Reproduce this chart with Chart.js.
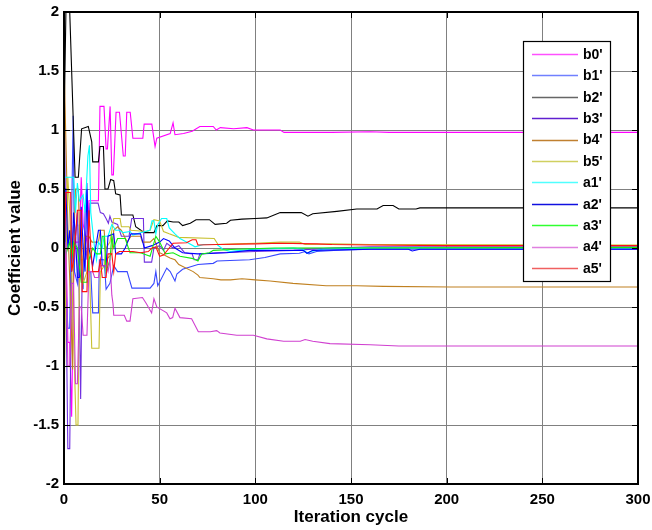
<!DOCTYPE html>
<html><head><meta charset="utf-8">
<script src="https://cdn.jsdelivr.net/npm/chart.js@4.4.1/dist/chart.umd.min.js"></script>
<style>html,body{margin:0;padding:0;background:#fff;}canvas{display:block;}</style>
</head><body>
<canvas id="c" width="652" height="530"></canvas>
<script>
// ---- data: [iteration, coefficient] pairs ----
const seriesNames = ["b0'", "b1'", "b2'", "b3'", "b4'", "b5'", "a1'", "a2'", "a3'", "a4'", "a5'"];
const seriesColors = ["#ff00ff", "#3848ff", "#000000", "#7030e0", "#c08020", "#c8c030", "#00ffff", "#0000ff", "#10ee10", "#d040d0", "#ff1010"];
const legendColors = ["#ff50ff", "#7080ff", "#666666", "#6020d0", "#c08030", "#d0d060", "#50ffff", "#1010e0", "#30ff30", "#e080e0", "#f06060"];

const b0 = [[0,0.8],[1,0.1],[2,-0.8],[3,-0.8],[4,-1.43],[5,-0.3],[6,0.05],[8,0.05],[9,0.6],[10,0.2],[12,0.05],[13,0.4],[18,0.4],[18.8,1.2],[20.9,1.2],[22,0.84],[22.7,0.84],[24.1,1.2],[25,0.62],[25.8,0.62],[27.2,1.15],[29,1.15],[31,0.78],[32,0.78],[32.8,1.15],[34.6,1.15],[36,0.93],[41.2,0.93],[41.9,1.05],[45.9,1.05],[47.6,0.86],[48.5,0.93],[55.5,0.97],[57,1.06],[58,0.96],[62.5,0.97],[67,0.99],[71,1.03],[78,1.03],[79.6,1.0],[81.7,1.02],[88.7,1.01],[95.6,1.02],[99,1.0],[113,1.0],[115,0.98],[140,0.98],[160,0.985],[170,0.98],[300,0.98]];
const b1 = [[0,0.2],[1,-0.3],[2,-0.68],[3,-0.68],[4,0.3],[4.8,1.12],[5.5,-0.2],[7,-0.3],[8,0.2],[9,-0.2],[10,-0.35],[11,0.3],[12,0.55],[13,-0.2],[14,-0.2],[15,-0.55],[18,-0.55],[18.5,-0.1],[21,-0.1],[22,-0.35],[24,-0.3],[26,-0.15],[28,-0.2],[33,-0.2],[35.5,-0.34],[45,-0.34],[47,-0.3],[48,-0.2],[49,-0.32],[53.7,-0.17],[55.5,-0.2],[58,-0.28],[59,-0.22],[62,-0.18],[70,-0.14],[78,-0.13],[80,-0.11],[97,-0.1],[105,-0.08],[113,-0.05],[123,-0.045],[126,-0.03],[128,-0.05],[132,-0.03],[141,-0.02],[160,-0.01],[300,-0.01]];
const b2 = [[0,1.0],[1,2.0],[3,2.0],[5.8,0.6],[7.5,0.6],[9.2,1.01],[12.7,1.03],[14.5,0.9],[15,0.73],[18,0.73],[18.8,0.86],[20.6,0.86],[21.4,0.5],[23,0.5],[24.4,0.58],[26,0.57],[27,0.46],[29.3,0.45],[30,0.28],[36,0.28],[37.5,0.18],[42,0.13],[47,0.13],[48.6,0.19],[51.7,0.19],[54,0.23],[57,0.22],[60,0.22],[62,0.19],[66,0.21],[69,0.24],[76,0.24],[79,0.2],[85,0.21],[87,0.235],[93,0.245],[100,0.25],[106,0.255],[113,0.3],[124,0.3],[127.5,0.27],[130,0.29],[142.6,0.31],[153,0.33],[163.6,0.33],[166.8,0.36],[172,0.36],[175,0.33],[184,0.33],[186,0.34],[300,0.34]];
const b3 = [[0,1.85],[1,-0.3],[2,-1.7],[3,-1.7],[4,-0.1],[5,0.2],[6,0.05],[7,0.3],[8,-0.45],[8.7,-1.28],[9.5,-0.2],[11,0.1],[12,-0.1],[13.6,0.38],[17.8,0.38],[19,0.3],[20.6,0.29],[22,0.25],[23.2,0.21],[24,0.27],[25,0.22],[28,0.2],[30,0.1],[34,0.1],[35.4,0.25],[41.5,0.25],[42,-0.12],[45.8,-0.12],[47,0.0],[50,0.02],[52,-0.02],[53.7,0.04],[57,0.0],[60,0.02],[63,-0.04],[67,-0.05],[68,-0.1],[70,-0.1],[71,-0.05],[80,-0.04],[90,-0.035],[100,-0.03],[120,-0.02],[140,0.0],[160,0.01],[300,0.01]];
const b4 = [[0,1.6],[1,0.9],[2,0.2],[3.5,-0.5],[4.5,-1.03],[5,0.0],[6,0.5],[7.5,0.5],[8.5,-0.1],[10,-0.1],[11,0.1],[13,0.1],[14.6,0.05],[18,0.05],[19,0.15],[21,0.15],[22,-0.1],[25,-0.05],[26,0.15],[28,0.18],[30,0.15],[33,0.05],[35,0.1],[40,0.1],[41,0.05],[45,0.05],[47,0.08],[50,-0.04],[55.4,-0.085],[58,-0.1],[60,-0.14],[67.5,-0.2],[70,-0.23],[71,-0.25],[78,-0.26],[82,-0.27],[87,-0.27],[93,-0.26],[100,-0.27],[107.7,-0.28],[119.7,-0.3],[137,-0.32],[153,-0.32],[167,-0.325],[202,-0.33],[300,-0.33]];
const b5 = [[0,-1.35],[1,-0.2],[2,0.6],[3,0.3],[4,-0.2],[5.7,-1.15],[6.3,-1.5],[7.3,-1.5],[8,-0.3],[9,0.1],[10,-0.3],[12,-0.2],[13,0.0],[14.5,-0.85],[18.3,-0.85],[19,-0.2],[21,-0.15],[22,0.0],[24,0.05],[26,0.25],[29.3,0.25],[30,0.18],[34,0.18],[35,0.15],[43,0.14],[45,0.15],[47,0.24],[50,0.23],[52,0.14],[55,0.12],[60,0.09],[78.5,0.08],[80.5,0.03],[90,0.035],[100,0.04],[113,0.05],[123,0.05],[126,0.03],[140,0.035],[160,0.03],[300,0.025]];
const a1 = [[0,0.6],[5,0.6],[6,0.3],[7,0.55],[8,0.4],[10,0.45],[11,0.3],[12.5,0.78],[13.3,0.87],[14,0.3],[16,0.0],[17,-0.1],[18,0.05],[20,0.0],[21,0.1],[23,0.1],[25,0.2],[27,0.15],[29,0.15],[31,0.13],[34.5,0.14],[36,0.11],[40,0.13],[44.9,0.15],[46,0.23],[47,0.23],[48,0.12],[49,0.2],[51,0.25],[53.7,0.25],[55,0.17],[58,0.12],[60.6,0.08],[64,0.05],[68.5,0.01],[72.8,0.03],[80,0.03],[83,-0.01],[86.8,-0.03],[92,-0.02],[100,-0.01],[120,0.0],[125,-0.01],[127,-0.045],[129,-0.03],[135,-0.01],[160,0.0],[300,0.0]];
const a2 = [[0,0.5],[1,0.5],[2,0.0],[3,0.15],[4,-0.2],[5,0.3],[6,0.1],[7,-0.25],[8,-0.25],[9,0.35],[10,0.0],[11,-0.2],[12,0.5],[13,0.0],[15,-0.15],[18,0.15],[19,0.15],[20,-0.15],[22,-0.15],[23,0.1],[26,0.12],[27,-0.05],[30,-0.05],[32,0.0],[35,0.12],[40,0.12],[42,0.0],[46,0.02],[50,0.05],[52,0.08],[55,0.06],[58,0.0],[62,-0.04],[70,-0.05],[85,-0.04],[97,-0.02],[125,-0.02],[127,-0.045],[130,-0.02],[160,-0.01],[180,-0.01],[182,-0.025],[186,-0.01],[300,-0.01]];
const a3 = [[0,0.05],[1,-0.05],[2,0.0],[3,0.05],[4,-0.1],[5,0.05],[7,0.0],[9,-0.29],[12,-0.29],[13,-0.1],[15,0.0],[17,-0.05],[19,-0.05],[20,0.1],[21,0.1],[22,-0.2],[24,-0.1],[25,0.1],[26,0.0],[28,0.08],[32,0.08],[34.5,-0.04],[40,-0.04],[45,-0.07],[48,0.1],[50,0.05],[53,-0.05],[57,-0.04],[60.6,-0.07],[67.5,-0.09],[70,-0.11],[72,-0.05],[76,-0.04],[78,-0.02],[90,-0.01],[110,0.0],[300,0.005]];
const a4 = [[0,-0.6],[1,0.05],[2,-1.0],[3,-1.0],[4,-0.3],[5,-0.3],[6,-1.15],[7,-1.15],[8,-0.5],[9,-0.5],[10,-0.74],[12,-0.74],[13,-0.2],[15,-0.2],[16,-0.25],[18,-0.25],[19,-0.15],[22,-0.15],[23,-0.2],[24,-0.1],[25,-0.4],[25.6,-0.47],[26,-0.57],[31.5,-0.57],[32.8,-0.62],[34.5,-0.62],[36,-0.43],[41,-0.42],[43,-0.47],[45.8,-0.55],[47,-0.43],[48.5,-0.5],[53.7,-0.55],[55.4,-0.6],[56.8,-0.59],[58,-0.51],[60.6,-0.59],[66.7,-0.6],[70.2,-0.71],[76.4,-0.71],[79.8,-0.7],[81.5,-0.72],[90.3,-0.74],[99,-0.74],[106,-0.77],[114.8,-0.79],[123.5,-0.79],[126,-0.775],[130,-0.79],[139,-0.81],[160,-0.82],[175,-0.83],[300,-0.83]];
const a5 = [[0,-0.1],[1,0.47],[3.5,0.47],[4,-0.2],[5,-0.1],[6,0.1],[7,0.32],[9,0.32],[9.5,-0.37],[12,-0.37],[13,0.32],[14,0.0],[15,-0.2],[18,-0.2],[19,-0.1],[20,-0.25],[22,-0.25],[23,-0.05],[25,-0.05],[26,-0.2],[27,-0.05],[29,-0.03],[36,-0.03],[40,-0.04],[44,-0.03],[46,0.0],[48,0.01],[50,-0.07],[52,-0.06],[55,0.0],[57,0.04],[64,0.045],[67,0.07],[69,0.07],[70,0.025],[80,0.03],[100,0.035],[113,0.04],[132,0.035],[140,0.03],[160,0.025],[200,0.02],[300,0.02]];

const seriesData = [b0, b1, b2, b3, b4, b5, a1, a2, a3, a4, a5];
const xTicks = [0, 50, 100, 150, 200, 250, 300];
const yTicks = [-2, -1.5, -1, -0.5, 0, 0.5, 1, 1.5, 2];
const xTitle = 'Iteration cycle';
const yTitle = 'Coefficient value';

const FONT = "'Liberation Sans', Arial, Helvetica, sans-serif";

const framePlugin = {
  id: 'frame',
  afterDraw(chart) {
    const {ctx, chartArea: a, scales} = chart;
    ctx.save();
    // inward ticks
    ctx.strokeStyle = '#000';
    ctx.lineWidth = 1;
    const tl = 6;
    ctx.beginPath();
    xTicks.forEach(v => {
      const px = Math.round(scales.x.getPixelForValue(v)) + 0.5;
      ctx.moveTo(px, a.bottom); ctx.lineTo(px, a.bottom - tl);
      ctx.moveTo(px, a.top); ctx.lineTo(px, a.top + tl);
    });
    yTicks.forEach(v => {
      const py = Math.round(scales.y.getPixelForValue(v)) + 0.5;
      ctx.moveTo(a.left, py); ctx.lineTo(a.left + tl, py);
      ctx.moveTo(a.right, py); ctx.lineTo(a.right - tl, py);
    });
    ctx.stroke();
    // frame
    ctx.lineWidth = 2;
    ctx.strokeRect(a.left, a.top, a.right - a.left, a.bottom - a.top);

    // legend box
    const lx = 523, ly = 41, lw = 87, lh = 240;
    ctx.fillStyle = '#fff';
    ctx.fillRect(lx, ly, lw, lh);
    ctx.lineWidth = 1.2;
    ctx.strokeStyle = '#000';
    ctx.strokeRect(lx + 0.5, ly + 0.5, lw, lh);
    const step = 21.4;
    ctx.font = 'bold 14px ' + FONT;
    ctx.textBaseline = 'middle';
    ctx.textAlign = 'left';
    seriesNames.forEach((n, i) => {
      const cy = 54 + i * step;
      ctx.strokeStyle = legendColors[i];
      ctx.lineWidth = 1.4;
      ctx.beginPath();
      ctx.moveTo(532, Math.round(cy) + 0.5); ctx.lineTo(578, Math.round(cy) + 0.5);
      ctx.stroke();
      ctx.fillStyle = '#000';
      ctx.fillText(n, 583, cy + 1);
    });
    ctx.restore();
  }
};

new Chart(document.getElementById('c'), {
  type: 'line',
  data: {
    datasets: seriesData.map((d, i) => ({
      label: seriesNames[i],
      data: d.map(p => ({x: p[0], y: p[1]})),
      borderColor: seriesColors[i],
      backgroundColor: seriesColors[i],
      borderWidth: 1.1,
      pointRadius: 0,
      tension: 0,
      fill: false,
      order: seriesData.length - 1 - i
    }))
  },
  options: {
    responsive: false,
    animation: false,
    devicePixelRatio: 1,
    layout: {padding: {left: 0, right: 14, top: 12, bottom: 0}},
    plugins: {legend: {display: false}, tooltip: {enabled: false}},
    scales: {
      x: {
        type: 'linear', min: 0, max: 300,
        afterBuildTicks: s => { s.ticks = xTicks.map(v => ({value: v})); },
        afterFit: s => { s.height = 46; s.paddingLeft = 0; s.paddingRight = 0; },
        grid: {color: '#808080', lineWidth: 1, drawTicks: false},
        border: {display: false},
        ticks: {color: '#000', padding: 7, font: {family: FONT, size: 15, weight: 'bold'}, maxRotation: 0,
          callback: v => String(v)},
        title: {display: true, text: xTitle, color: '#000', padding: {top: 0, bottom: 2},
          font: {family: FONT, size: 17, weight: 'bold'}}
      },
      y: {
        type: 'linear', min: -2, max: 2,
        afterBuildTicks: s => { s.ticks = yTicks.map(v => ({value: v})); },
        afterFit: s => { s.width = 64; s.paddingTop = 0; s.paddingBottom = 0; },
        grid: {color: '#808080', lineWidth: 1, drawTicks: false},
        border: {display: false},
        ticks: {color: '#000', padding: 5, font: {family: FONT, size: 15, weight: 'bold'},
          callback: v => String(v)},
        title: {display: true, text: yTitle, color: '#000', padding: {top: 5, bottom: 0},
          font: {family: FONT, size: 17, weight: 'bold'}}
      }
    }
  },
  plugins: [framePlugin]
});
</script>
</body></html>
